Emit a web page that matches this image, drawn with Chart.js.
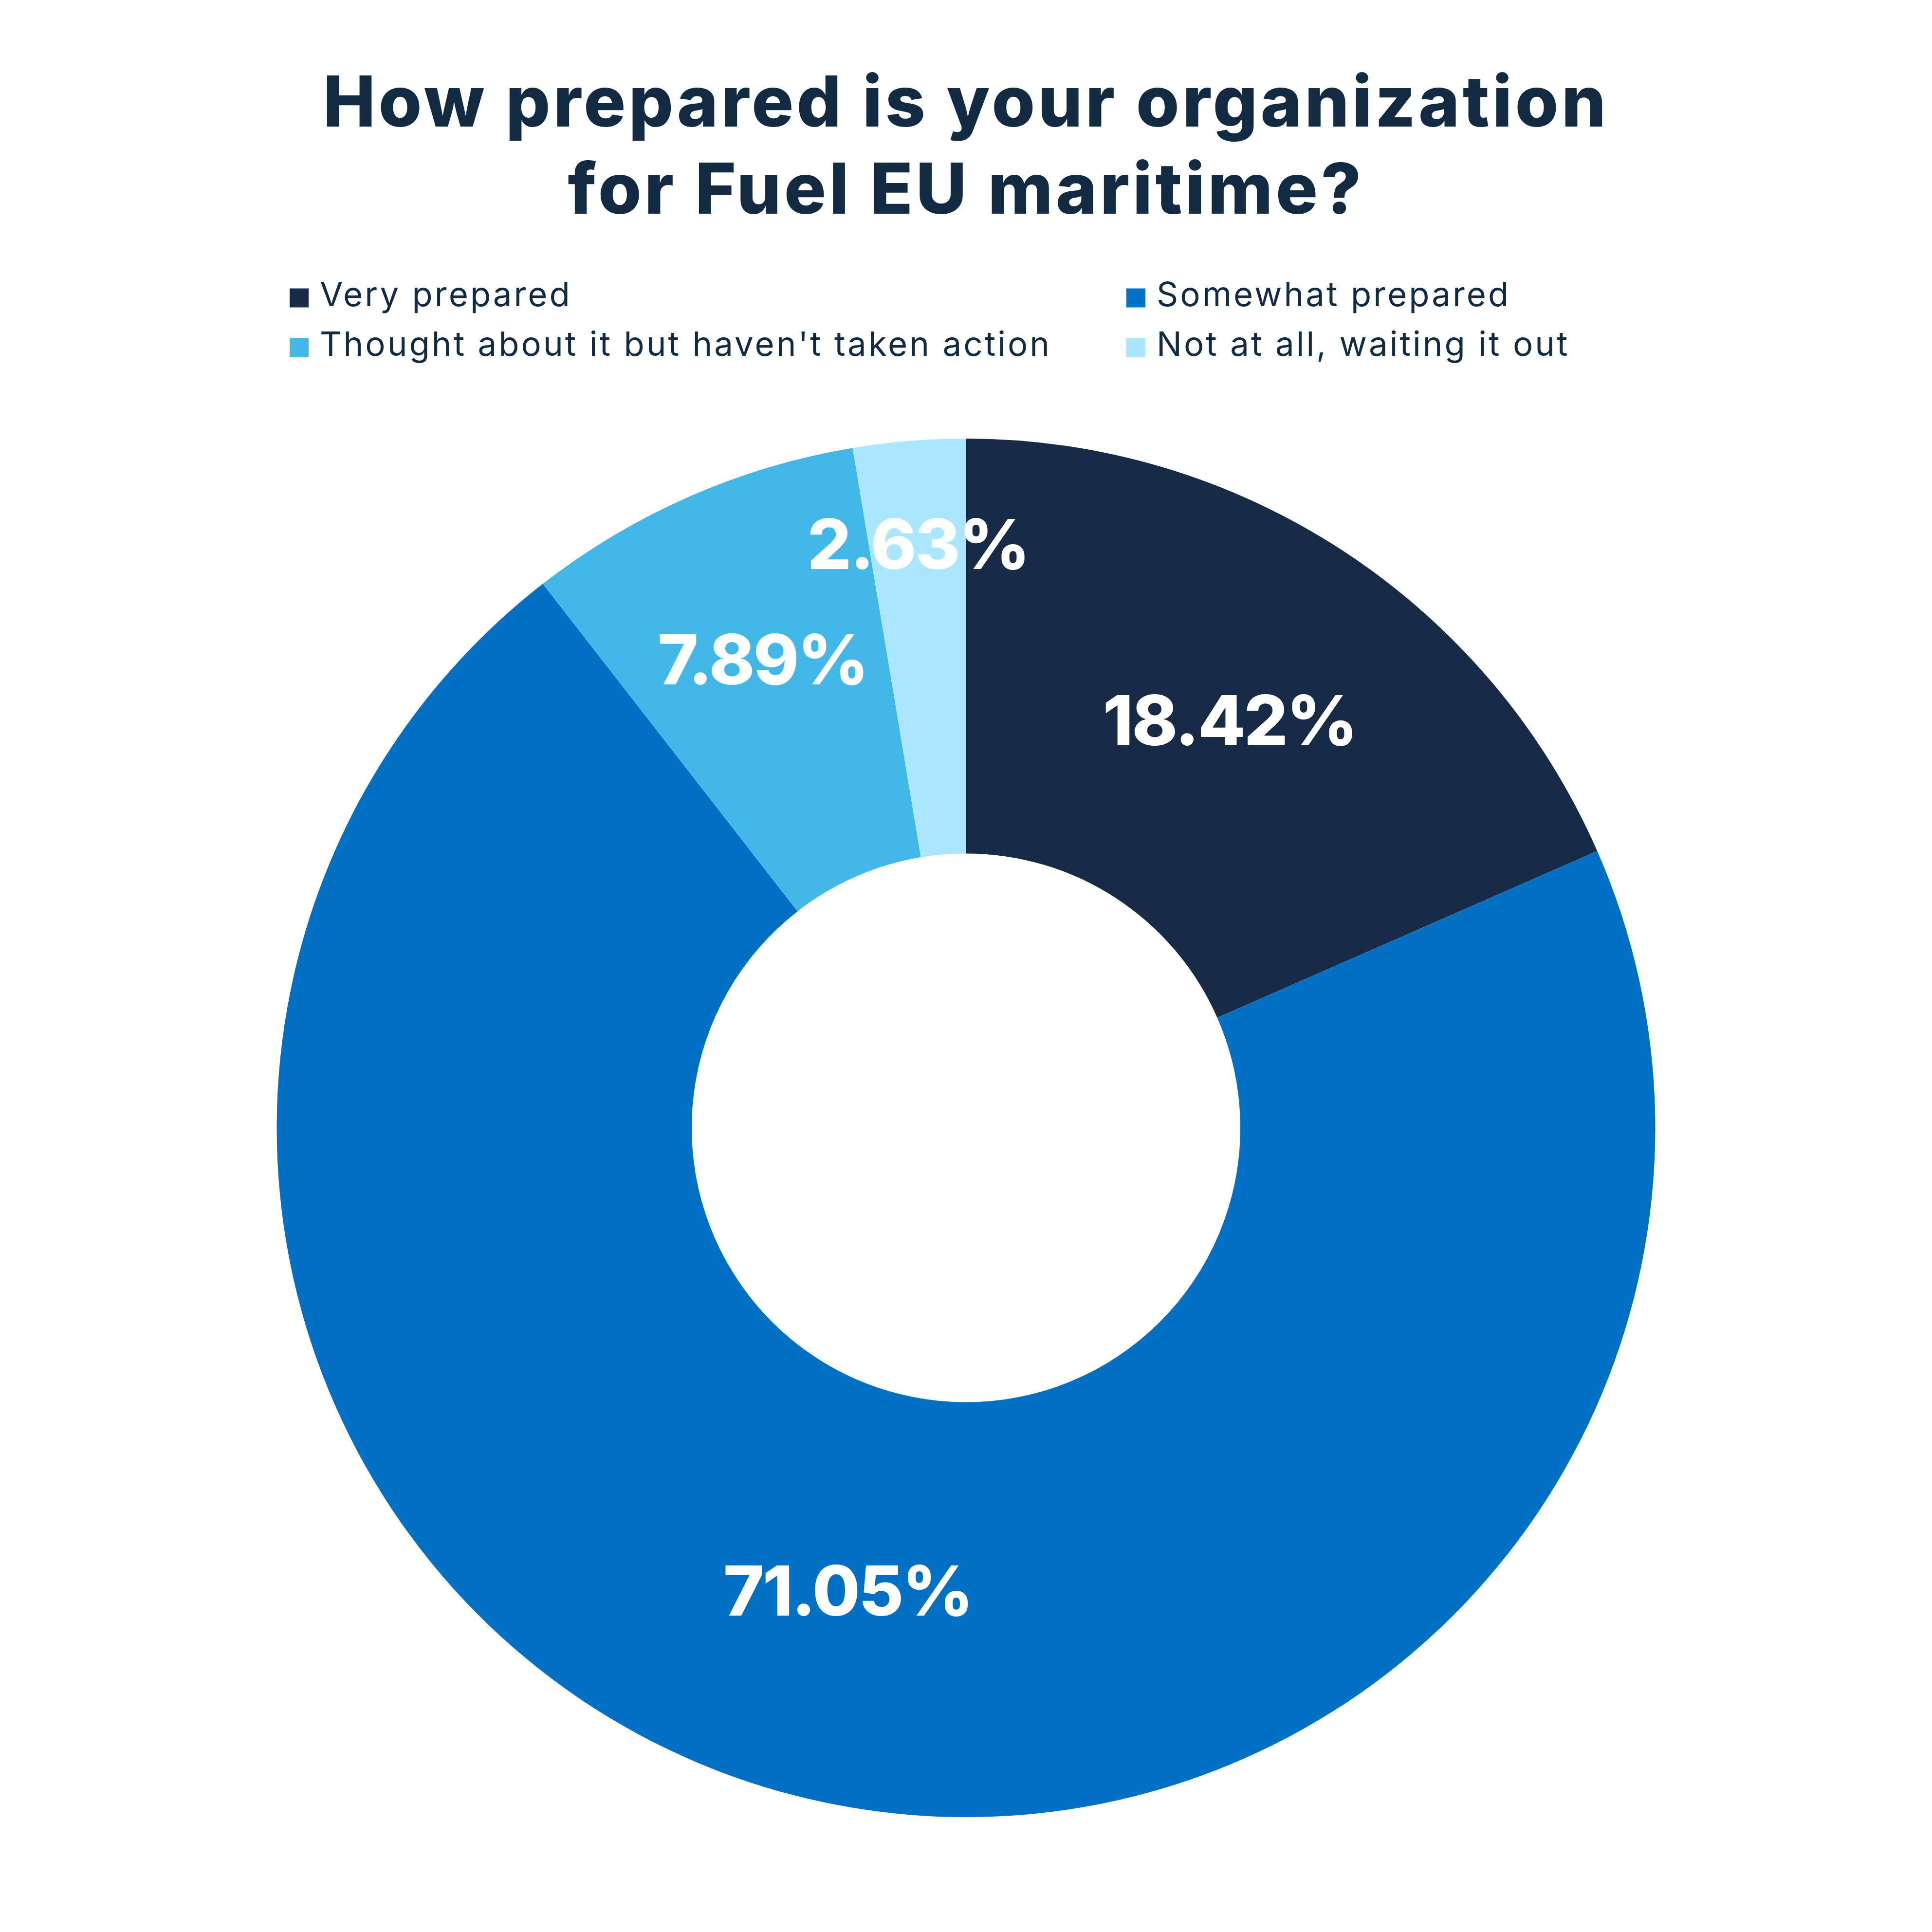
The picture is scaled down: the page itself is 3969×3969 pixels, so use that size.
<!DOCTYPE html>
<html>
<head>
<meta charset="utf-8">
<script src="https://cdn.jsdelivr.net/npm/chart.js@4/dist/chart.umd.min.js"></script>
<style>
html,body{margin:0;padding:0;background:#fff;}
#wrap{width:3969px;height:3969px;}
</style>
</head>
<body>
<div id="wrap"><canvas id="c" width="3969" height="3969"></canvas></div>
<script>
const titleLines = ["How prepared is your organization", "for Fuel EU maritime?"];
const categories = ["Very prepared", "Somewhat prepared", "Thought about it but haven't taken action", "Not at all, waiting it out"];
const values = [18.42, 71.05, 7.89, 2.63];
const valueLabels = ["18.42%", "71.05%", "7.89%", "2.63%"];
const colors = ["#172a46", "#0070c5", "#42b8e9", "#aae6fd"];

const textColor = "#132a43";
const FONT = "Inter, 'Open Sans', sans-serif";

// letter spacing for the title (drawn by Chart.js title box)
const spacingPlugin = {
  id: 'titleSpacing',
  beforeDraw(chart) { chart.ctx.letterSpacing = '6px'; },
  beforeDatasetsDraw(chart) { chart.ctx.letterSpacing = '0px'; }
};

const legendPlugin = {
  id: 'gridLegend',
  afterDraw(chart) {
    const ctx = chart.ctx;
    ctx.save();
    const colX = [595, 2314];
    const rowY = [612, 714];
    const box = 39;
    ctx.font = "400 69px " + FONT;
    ctx.letterSpacing = '4px';
    ctx.textBaseline = 'middle';
    ctx.textAlign = 'left';
    categories.forEach((lab, i) => {
      const x = colX[i % 2], y = rowY[Math.floor(i / 2)];
      ctx.fillStyle = colors[i];
      ctx.fillRect(x, y - box / 2, box, box);
      ctx.fillStyle = textColor;
      ctx.fillText(lab, x + 62, y - 4);
    });
    ctx.restore();
  }
};

const valueLabelPlugin = {
  id: 'valueLabels',
  afterDatasetsDraw(chart, args, opts) {
    const ctx = chart.ctx;
    const meta = chart.getDatasetMeta(0);
    ctx.save();
    ctx.font = "800 142px " + FONT;
    ctx.letterSpacing = '-3px';
    ctx.fillStyle = "#ffffff";
    ctx.textAlign = 'center';
    ctx.textBaseline = 'middle';
    meta.data.forEach((arc, i) => {
      const p = arc.getProps(['x', 'y', 'startAngle', 'endAngle', 'innerRadius', 'outerRadius'], true);
      const mid = (p.startAngle + p.endAngle) / 2;
      const f = opts.radial[i];
      const r = p.innerRadius + (p.outerRadius - p.innerRadius) * f;
      ctx.fillText(valueLabels[i], p.x + Math.cos(mid) * r, p.y + Math.sin(mid) * r);
    });
    ctx.restore();
  }
};

new Chart(document.getElementById('c'), {
  type: 'doughnut',
  data: {
    labels: categories,
    datasets: [{
      data: values,
      backgroundColor: colors,
      borderWidth: 0,
      hoverOffset: 0
    }]
  },
  options: {
    responsive: false,
    devicePixelRatio: 1,
    animation: false,
    cutout: '39.8%',
    layout: { padding: { top: 0, bottom: 236, left: 0, right: 0 } },
    plugins: {
      legend: { display: false },
      tooltip: { enabled: false },
      valueLabels: { radial: [0.5, 0.5, 0.56, 0.74] },
      title: {
        display: true,
        text: titleLines,
        color: textColor,
        font: { family: FONT, size: 144, weight: '800', lineHeight: 1.243 },
        padding: { top: 127, bottom: 416 }
      }
    }
  },
  plugins: [spacingPlugin, legendPlugin, valueLabelPlugin]
});
</script>
</body>
</html>
